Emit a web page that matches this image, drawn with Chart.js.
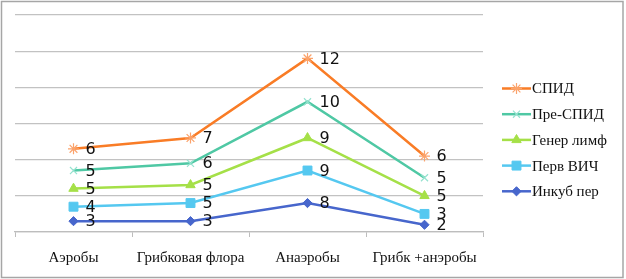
<!DOCTYPE html>
<html><head><meta charset="utf-8">
<script src="https://cdn.jsdelivr.net/npm/chart.js@4"></script>
<style>html,body{margin:0;padding:0;background:#fff;overflow:hidden}</style>
</head><body>
<canvas id="c" width="626" height="279"></canvas>
<script>
const categories = ['Аэробы', 'Грибковая флора', 'Анаэробы', 'Грибк +анэробы'];
const seriesNames = ['Инкуб пер', 'Перв ВИЧ', 'Генер лимф', 'Пре-СПИД', 'СПИД'];
const inkubPer = [3, 3, 8, 2];
const pervVich = [4, 5, 9, 3];
const generLimf = [5, 5, 9, 5];
const preSpid = [5, 6, 10, 5];
const spid = [6, 7, 12, 6];
const yMin = 0, yMax = 60, yStep = 10;

const serifFamily = '"Liberation Serif", "Times New Roman", serif';

const lineColors = ['#4766CC', '#55C8F0', '#A5E048', '#4FC8A4', '#F97C26'];
const markerColors = ['#4766CC', '#55C8F0', '#A5E048', '#95E2CF', '#FBA36C'];
const markerStyles = ['rectRot', 'rect', 'triangle', 'crossRot', 'star'];
const markerRadii = [4.6, 6.3, 5.4, 5, 5.5];
const seriesData = [inkubPer, pervVich, generLimf, preSpid, spid];

const datasets = seriesData.map((d, i) => ({
  label: seriesNames[i],
  data: d,
  borderColor: lineColors[i],
  backgroundColor: markerColors[i],
  pointBorderColor: markerColors[i],
  pointBackgroundColor: markerColors[i],
  pointStyle: markerStyles[i],
  pointRadius: markerRadii[i],
  pointBorderWidth: (markerStyles[i] === 'star' || markerStyles[i] === 'crossRot') ? 1.2 : 1,
  borderWidth: 2.5,
  tension: 0,
  fill: false
}));

const valueLabels = {
  id: 'valueLabels',
  afterDatasetsDraw(chart) {
    const ctx = chart.ctx;
    ctx.save();
    ctx.font = '16px "DejaVu Sans"';
    ctx.fillStyle = '#111';
    ctx.textBaseline = 'middle';
    ctx.textAlign = 'left';
    chart.data.datasets.forEach((ds, i) => {
      const meta = chart.getDatasetMeta(i);
      meta.data.forEach((pt, j) => {
        ctx.fillText(String(ds.data[j]), pt.x + 12, pt.y + 1);
      });
    });
    ctx.restore();
  }
};

const sideLegend = {
  id: 'sideLegend',
  afterDraw(chart) {
    const ctx = chart.ctx;
    ctx.save();
    const n = chart.data.datasets.length;
    for (let k = 0; k < n; k++) {
      const di = n - 1 - k;
      const ds = chart.data.datasets[di];
      const y = 88.5 + k * 25.7;
      ctx.strokeStyle = ds.borderColor;
      ctx.lineWidth = 2.5;
      ctx.beginPath();
      ctx.moveTo(502, y);
      ctx.lineTo(531, y);
      ctx.stroke();
      ctx.strokeStyle = ds.pointBorderColor;
      ctx.fillStyle = ds.pointBackgroundColor;
      ctx.lineWidth = ds.pointBorderWidth;
      Chart.helpers.drawPoint(ctx, {pointStyle: ds.pointStyle, radius: ds.pointRadius, borderWidth: ds.pointBorderWidth, rotation: 0}, 516.5, y);
      ctx.fillStyle = '#111';
      ctx.font = '15px ' + serifFamily;
      ctx.textBaseline = 'middle';
      ctx.textAlign = 'left';
      ctx.fillText(ds.label, 532, y + 1);
    }
    ctx.restore();
  }
};

const frame = {
  id: 'frame',
  beforeDraw(chart) {
    const ctx = chart.ctx;
    ctx.save();
    ctx.fillStyle = '#fff';
    ctx.fillRect(0, 0, chart.width, chart.height);
    ctx.strokeStyle = '#a6a6a6';
    ctx.lineWidth = 1.5;
    ctx.strokeRect(1.5, 1.5, 621.5, 276);
    ctx.restore();
  }
};

new Chart(document.getElementById('c'), {
  type: 'line',
  data: { labels: categories, datasets: datasets },
  options: {
    responsive: false,
    animation: false,
    devicePixelRatio: 1,
    layout: { padding: { left: 15, right: 143, top: 15, bottom: 0 } },
    plugins: { legend: { display: false }, tooltip: { enabled: false } },
    scales: {
      x: {
        offset: true,
        grid: { offset: true, drawOnChartArea: false, drawTicks: true, tickLength: 5, color: '#bdbdbd' },
        border: { display: true, color: '#bdbdbd', width: 1.3 },
        ticks: { color: '#111', padding: 12, font: { family: serifFamily, size: 15 }, maxRotation: 0, autoSkip: false }
      },
      y: {
        stacked: true,
        min: yMin, max: yMax,
        ticks: { display: false, stepSize: yStep },
        grid: { color: '#c2c2c2', lineWidth: 1.2, drawTicks: false },
        border: { display: false }
      }
    }
  },
  plugins: [frame, valueLabels, sideLegend]
});
</script>
</body></html>
